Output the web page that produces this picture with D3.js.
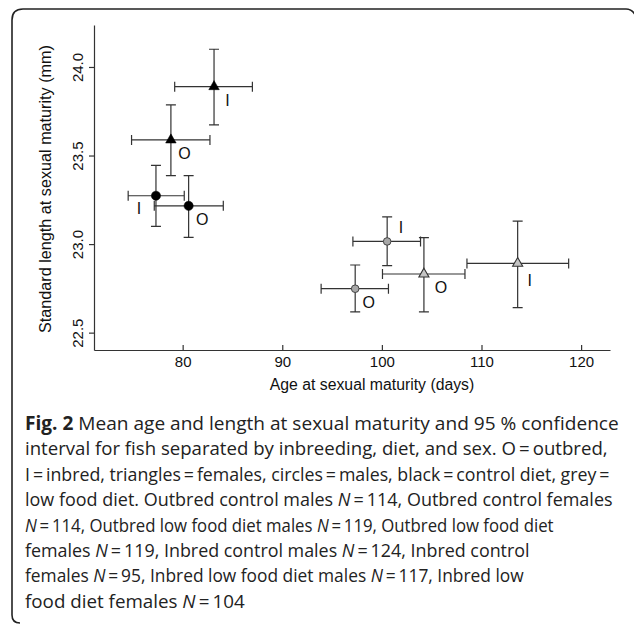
<!DOCTYPE html>
<html><head><meta charset="utf-8">
<script src="https://cdn.jsdelivr.net/npm/d3@7"></script>
<style>body{margin:0;background:#fff} svg{display:block}</style>
</head><body><svg id="c" width="634" height="626"></svg>
<script>
// ---- data ----
const groups = ["Inbred control females","Outbred control females","Inbred control males","Outbred control males","Inbred low food males","Outbred low food males","Outbred low food females","Inbred low food females"];
const sex = ["F","F","M","M","M","M","F","F"];
const diet = ["control","control","control","control","low","low","low","low"];
const labels = ["I","O","I","O","I","O","O","I"];
const labelSide = ["se","se","sw","se","ne","se","se2","se3"];
const ageMean = [83.15,78.82,77.32,80.60,100.53,97.32,104.22,113.63];
const ageLo   = [79.20,74.87,74.53,77.15,97.09,93.90,100.06,108.54];
const ageHi   = [87.00,82.74,80.16,84.08,103.88,100.66,108.34,118.75];
const lenMean = [23.889,23.588,23.273,23.216,23.015,22.748,22.831,22.891];
const lenLo   = [23.673,23.386,23.100,23.038,22.878,22.617,22.617,22.641];
const lenHi   = [24.100,23.786,23.444,23.387,23.154,22.882,23.036,23.130];
const xTicks = [80,90,100,110,120];
const yTicks = [22.5,23.0,23.5,24.0];
const xTitle = "Age at sexual maturity (days)";
const yTitle = "Standard length at sexual maturity (mm)";
const captionLines = [
  [["Fig. 2","b"],[" Mean age and length at sexual maturity and 95 % confidence",""]],
  [["interval for fish separated by inbreeding, diet, and sex. O\u2009=\u2009outbred,",""]],
  [["I\u2009=\u2009inbred, triangles\u2009=\u2009females, circles\u2009=\u2009males, black\u2009=\u2009control diet, grey\u2009=",""]],
  [["low food diet. Outbred control males ",""],["N","i"],["\u2009=\u2009114, Outbred control females",""]],
  [["N","i"],["\u2009=\u2009114, Outbred low food diet males ",""],["N","i"],["\u2009=\u2009119, Outbred low food diet",""]],
  [["females ",""],["N","i"],["\u2009=\u2009119, Inbred control males ",""],["N","i"],["\u2009=\u2009124, Inbred control",""]],
  [["females ",""],["N","i"],["\u2009=\u200995, Inbred low food diet males ",""],["N","i"],["\u2009=\u2009117, Inbred low",""]],
  [["food diet females ",""],["N","i"],["\u2009=\u2009104",""]]
];
const captionWidths = [594,583,585,588,529,505,499,220];

// ---- layout ----
const svg = d3.select("#c");
const L = 94, R = 610, T = 25, B = 350;
const x = d3.scaleLinear().domain([71.1,122.9]).range([L,R]);
const y = d3.scaleLinear().domain([22.402,24.237]).range([B,T]);
const ink = "#333";
const afont = "'Liberation Sans', Arial, sans-serif";

// border
svg.append("path")
  .attr("d","M20,623 Q12,623 12,615 L12,20 Q12,9 23,9 L626,9 Q633,9 636,17")
  .attr("fill","none").attr("stroke","#222").attr("stroke-width",1.6);

// x axis
const gx = svg.append("g").attr("transform",`translate(0,${B})`)
  .call(d3.axisBottom(x).tickValues(xTicks).tickSize(-5).tickSizeOuter(0).tickPadding(6.5).tickFormat(d3.format("d")));
gx.select(".domain").attr("stroke",ink).attr("stroke-width",1.2);
gx.selectAll(".tick line").attr("stroke",ink).attr("stroke-width",1.2);
gx.selectAll("text").attr("font-family",afont).attr("font-size",15).attr("fill","#111");

// y axis
const gy = svg.append("g").attr("transform",`translate(${L},0)`)
  .call(d3.axisLeft(y).tickValues(yTicks).tickSize(5).tickSizeOuter(0).tickFormat(d3.format(".1f")));
gy.select(".domain").attr("stroke",ink).attr("stroke-width",1.2);
gy.selectAll(".tick line").attr("stroke",ink).attr("stroke-width",1.2);
gy.selectAll("text").attr("font-family",afont).attr("font-size",15).attr("fill","#111")
  .attr("transform","rotate(-90)").attr("x",0).attr("y",-11).attr("dy",null).attr("text-anchor","middle");

// titles
svg.append("text").attr("x",372).attr("y",390).attr("text-anchor","middle")
  .attr("font-family",afont).attr("font-size",15.8).attr("fill","#111").text(xTitle);
svg.append("text").attr("transform",`translate(51,189) rotate(-90)`).attr("text-anchor","middle")
  .attr("font-family",afont).attr("font-size",16.2).attr("fill","#111").text(yTitle);

// error bars
const idx = d3.range(groups.length);
const bars = svg.append("g").attr("stroke",ink).attr("stroke-width",1.2).attr("fill","none");
idx.forEach(i=>{
  const cx = x(ageMean[i]), cy = y(lenMean[i]);
  const y0 = y(lenLo[i]), y1 = y(lenHi[i]), x0 = x(ageLo[i]), x1 = x(ageHi[i]);
  const cw = 5;
  bars.append("path").attr("d",
    `M${cx},${y0}V${y1}M${cx-cw},${y0}H${cx+cw}M${cx-cw},${y1}H${cx+cw}`+
    `M${x0},${cy}H${x1}M${x0},${cy-cw}V${cy+cw}M${x1},${cy-cw}V${cy+cw}`);
});

// markers
const tri = d3.symbol(d3.symbolTriangle, 48);
const triG = d3.symbol(d3.symbolTriangle, 44);
idx.forEach(i=>{
  const cx = x(ageMean[i]), cy = y(lenMean[i]);
  const black = diet[i]==="control";
  if (sex[i]==="F") {
    svg.append("path").attr("d",(black?tri:triG)()).attr("transform",`translate(${cx},${cy})`)
      .attr("fill",black?"#000":"#c4c4c4").attr("stroke",black?"#000":"#333").attr("stroke-width",black?0.5:1.1);
  } else {
    svg.append("circle").attr("cx",cx).attr("cy",cy).attr("r",black?4.6:3.8)
      .attr("fill",black?"#000":"#a8a8a8").attr("stroke",black?"#000":"#444").attr("stroke-width",black?0.5:1);
  }
});

// point labels (grayscale antialiasing via group opacity)
const off = {se:[13.5,13.2], sw:[-17,12.3], ne:[13.7,-14.5], se2:[17,13.3], se3:[12,16.7]};
const lg = svg.append("g").attr("opacity",0.995);
idx.forEach(i=>{
  const o = off[labelSide[i]];
  lg.append("text").attr("x",x(ageMean[i])+o[0]).attr("y",y(lenMean[i])+o[1])
    .attr("dy","0.36em").attr("text-anchor","middle")
    .attr("font-family",afont).attr("font-size",16).attr("fill","#111").text(labels[i]);
});

// caption: each line horizontally scaled to the width it has in the reference
const cap = svg.append("g").attr("font-family","'Open Sans','Noto Sans',sans-serif").attr("font-size",19).attr("fill","#222");
const capX = 25, capY0 = 430, capDY = 25.4;
captionLines.forEach((segs,k)=>{
  const t = cap.append("text").attr("x",0).attr("y",0);
  segs.forEach(s=>{
    const ts = t.append("tspan").text(s[0]);
    if (s[1]==="b") ts.attr("font-weight","bold");
    if (s[1]==="i") ts.attr("font-style","italic");
  });
  const w = t.node().getComputedTextLength();
  const sx = w > 0 ? captionWidths[k]/w : 1;
  t.attr("transform",`translate(${capX},${capY0+k*capDY}) scale(${sx},1)`);
});
</script></body></html>
